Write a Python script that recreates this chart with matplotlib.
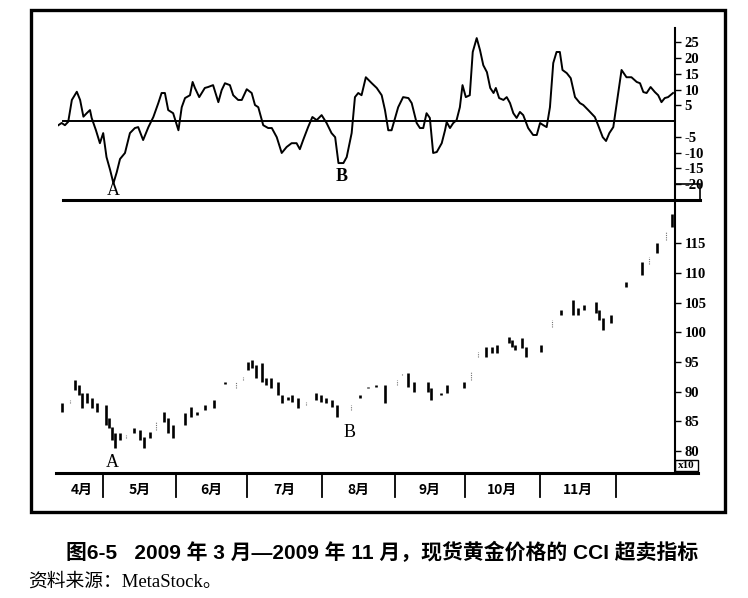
""" CCI oversold indicator over spot gold, Mar-Nov 2009 """

import matplotlib
matplotlib.use("Agg")
import matplotlib.pyplot as plt
import matplotlib.transforms as mtrans
from matplotlib.patches import Rectangle

# CCI line (trading day index, value)
cci_day = [0.1, 1.1, 2.1, 3.1, 4.2, 5.7, 6.7, 7.7, 8.7, 9.7, 10.2, 11.5, 12.7, 13.7,
           14.7, 15.8, 16.8, 17.8, 18.8, 20.3, 21.8, 23.3, 24.3, 25.8, 27.4, 28.9,
           30.4, 31.4, 32.4, 33.4, 34.9, 36.5, 37.5, 38.5, 40.0, 40.8, 41.5, 42.8,
           44.5, 45.5, 47.0, 48.6, 49.6, 50.6, 52.1, 53.1, 54.6, 55.7, 57.2, 58.7,
           59.7, 60.7, 62.2, 63.7, 64.8, 66.3, 67.8, 69.3, 70.8, 72.3, 73.3, 74.3,
           75.8, 77.1, 78.4, 79.9, 81.4, 82.9, 84.0, 85.0, 86.5, 87.5, 89.0, 90.0,
           91.0, 92.0, 93.3, 95.1, 96.6, 98.1, 99.1, 100.1, 101.1, 103.1, 104.6,
           106.2, 107.2, 108.7, 109.7, 110.7, 111.7, 112.7, 113.7, 114.8, 116.3,
           117.3, 117.8, 118.8, 119.8, 120.8, 121.8, 122.6, 123.6, 124.8, 125.7,
           126.9, 127.9, 128.9, 130.0, 131.0, 132.0, 132.7, 133.7, 135.0, 136.0,
           137.0, 138.0, 139.0, 140.0, 141.0, 142.5, 144.0, 145.1, 146.1, 147.1,
           148.1, 149.1, 150.1, 151.1, 152.1, 152.9, 154.2, 155.4, 156.7, 158.2,
           159.2, 160.7, 162.7, 163.7, 165.1, 166.1, 167.1, 168.3, 169.5, 170.8,
           172.3, 173.8, 175.4, 176.4, 177.4, 178.4, 179.6, 180.9, 181.9, 182.9,
           183.9, 184.9, 186.4]
cci_val = [-1.3, -0.6, -1.3, -0.2, 6.7, 9.3, 6.7, 1.4, 2.5, 3.5, 1.0, -2.9, -7.0, -3.8,
           -11.4, -15.5, -19.7, -16.2, -12.0, -10.1, -3.8, -2.2, -1.9, -6.0, -1.9, 1.3,
           5.7, 8.9, 8.9, 3.5, 2.5, -2.9, 4.4, 7.3, 8.2, 12.4, 10.5, 7.6,
           10.5, 10.8, 11.4, 6.0, 9.8, 12.0, 11.4, 8.2, 6.7, 6.7, 10.1, 8.9,
           5.1, 4.4, -1.3, -2.2, -2.2, -5.1, -10.1, -8.2, -7.0, -7.0, -8.9, -6.0,
           -1.9, 1.3, 0.3, 1.9, -0.6, -3.8, -5.1, -13.3, -13.3, -11.4, -3.8, 7.6,
           8.9, 8.2, 13.9, 12.0, 10.5, 8.2, 3.5, -2.9, -2.9, 4.4, 7.6,
           7.3, 5.7, -0.6, -2.2, -2.2, 2.5, 1.0, -10.1, -9.8, -7.0,
           -2.9, -0.3, -2.2, -0.6, 0.3, 4.4, 11.4, 7.6, 8.2, 21.9,
           26.3, 22.5, 17.7, 15.5, 10.5, 8.9, 10.5, 7.3, 6.7, 7.6,
           5.7, 2.5, 1.0, 2.9, 1.9, -2.2, -4.4, -4.4, -0.6, -1.3,
           -1.9, 4.4, 18.4, 21.9, 21.9, 16.2, 15.2, 13.6, 7.6, 5.7,
           5.1, 3.5, 1.3, -1.3, -5.1, -6.3, -3.8, -1.9, 6.7, 16.2,
           13.9, 13.9, 12.4, 12.0, 9.2, 8.9, 10.8, 9.2, 8.2, 6.0,
           7.3, 7.6, 8.9]

# price bars (x10 USD): clearly printed ones
bar_day = [1.1, 5.2, 6.4, 7.4, 8.9, 10.2, 11.7, 14.5, 15.5, 16.4, 17.3, 18.8, 22.9,
           24.8, 26.1, 27.9, 32.1, 33.2, 35.0, 38.5, 40.3, 42.1, 44.5, 47.3, 50.6,
           57.7, 58.9, 60.0, 61.7, 62.9, 64.7, 66.8, 68.0, 69.7, 71.0, 72.6, 78.2,
           79.7, 81.2, 83.0, 84.7, 91.5, 94.1, 96.4, 99.1, 106.2, 108.0, 112.0,
           113.0, 116.2, 118.0, 123.0, 129.8, 131.4, 133.2, 136.8, 137.7, 138.5,
           140.5, 141.7, 146.5, 152.6, 156.2, 157.6, 159.4, 163.0, 163.9, 165.3,
           167.6, 172.3, 177.1, 181.4, 186.2]
bar_high = [88.1, 92.0, 91.1, 89.8, 89.8, 89.0, 88.1, 87.7, 85.6, 84.0, 83.0, 83.0, 83.9,
            83.6, 82.4, 83.2, 86.6, 85.6, 84.4, 86.4, 87.4, 86.6, 87.7, 88.6, 91.6,
            95.0, 95.3, 94.5, 94.8, 92.3, 92.3, 91.6, 89.4, 89.1, 89.4, 88.9, 89.8,
            89.4, 89.0, 88.6, 87.7, 89.4, 90.8, 91.1, 91.1, 93.1, 91.6, 91.6,
            90.6, 89.7, 91.1, 91.6, 97.5, 97.5, 97.8, 99.2, 98.7, 97.8,
            99.0, 97.5, 97.8, 103.7, 105.4, 104.1, 104.6, 105.1, 103.7, 102.4,
            103.0, 108.5, 111.8, 115.0, 120.0]
bar_low = [86.6, 90.3, 89.4, 87.2, 88.1, 87.2, 86.6, 84.4, 83.9, 81.9, 80.5, 81.9, 83.0,
           81.9, 80.5, 82.2, 84.9, 83.0, 82.2, 84.4, 85.7, 86.1, 86.9, 87.2, 91.3,
           93.6, 94.0, 92.3, 91.6, 91.1, 90.6, 89.4, 88.1, 88.6, 88.2, 87.2, 88.6,
           88.2, 88.1, 87.4, 85.7, 88.9, 90.6, 90.8, 88.1, 90.8, 89.9, 89.9,
           88.6, 89.5, 89.8, 90.6, 95.8, 96.5, 96.5, 98.2, 97.5, 97.0,
           97.3, 95.8, 96.7, 102.9, 102.9, 102.9, 103.7, 103.2, 102.0, 100.4,
           101.6, 107.6, 109.6, 113.3, 117.7]

# faintly printed bars
faint_day = [3.6, 20.6, 29.8, 53.9, 56.2, 75.2, 88.9, 102.6, 104.2, 125.2, 127.4,
             149.8, 179.1, 184.4]
faint_high = [88.6, 82.7, 84.9, 91.6, 92.5, 88.2, 87.7, 92.0, 93.1, 93.3, 96.7,
              102.0, 112.7, 116.9]
faint_low = [88.1, 82.2, 83.5, 90.6, 92.0, 87.7, 86.9, 91.2, 92.8, 92.0, 95.8,
             100.9, 111.6, 115.5]

# month starts (trading day) and labels
month_start = [13.6, 35.8, 57.3, 80.0, 102.1, 123.3, 146.1, 169.1]
month_names = ["4月", "5月", "6月", "7月", "8月", "9月", "10月", "11月"]

cci_ticks = [25, 20, 15, 10, 5, -5, -10, -15, -20]
price_ticks = [115, 110, 105, 100, 95, 90, 85, 80]

W, H = 748, 598
fig = plt.figure(figsize=(W / 100, H / 100), dpi=100)

def px_rect(l, t, r, b):
    return [l / W, 1 - b / H, (r - l) / W, (b - t) / H]

serif = ["Liberation Serif", "DejaVu Serif"]
cjk = ["Noto Sans CJK SC", "DejaVu Sans"]

ax1 = fig.add_axes(px_rect(58, 28, 675, 200))
ax2 = fig.add_axes(px_rect(58, 200, 675, 473))

for ax in (ax1, ax2):
    ax.patch.set_visible(False)
    for s in ("top", "left", "bottom"):
        ax.spines[s].set_visible(False)
    ax.spines["right"].set_linewidth(1.5)
    ax.set_xlim(0, 187)
    ax.set_xticks([])
    ax.yaxis.tick_right()
    ax.tick_params(axis="y", direction="out", length=4, width=1, pad=3,
                   labelsize=10.5)

# CCI panel
ax1.set_ylim(-25, 29.5)
ax1.plot(cci_day, cci_val, color="black", lw=1.4)
ax1.axhline(0, xmin=0.008, xmax=1, color="black", lw=1.4)
ax1.axhline(-25, xmin=0.008, xmax=1.0405, color="black", lw=2.2, clip_on=False,
            zorder=5)
ax1.set_yticks(cci_ticks)
ax1.set_yticklabels([str(t) for t in cci_ticks], family=serif, fontweight="bold")
bt = mtrans.blended_transform_factory(ax1.transAxes, ax1.transData)
ax1.add_patch(Rectangle((1.0, -25), 0.0405, 5, transform=bt, fill=False,
                        lw=1.2, clip_on=False))
ax1.text(16.7, -24.6, "A", family=serif, fontsize=13, ha="center", va="bottom")
ax1.text(86, -17.7, "B", family=serif, fontsize=13, ha="center", va="center",
         fontweight="bold")

# price panel
ax2.set_ylim(76.3, 122.3)
ax2.vlines(bar_day, bar_low, bar_high, color="black", lw=1.9)
ax2.vlines(faint_day, faint_low, faint_high, color="0.45", lw=0.8,
           linestyles=(0, (1, 1)))
ax2.set_yticks(price_ticks)
ax2.set_yticklabels([str(t) for t in price_ticks], family=serif, fontweight="bold")
ax2.axhline(76.3, xmin=-0.003, xmax=1.037, color="black", lw=2.2, clip_on=False)
ax2.add_patch(Rectangle((1.0, 0.007), 0.0373, 0.041, transform=ax2.transAxes,
                        fill=False, lw=1.0, clip_on=False))
ax2.text(1.0186, 0.027, "x10", transform=ax2.transAxes, family=serif,
         fontsize=8, fontweight="bold", ha="center", va="center")
ax2.text(16.4, 78.0, "A", family=serif, fontsize=13, ha="center", va="center")
ax2.text(88.5, 83.2, "B", family=serif, fontsize=13, ha="center", va="center")

# month strip below the price panel
mt = mtrans.blended_transform_factory(ax2.transData, ax2.transAxes)
for d in month_start:
    ax2.plot([d, d], [0, -0.088], transform=mt, color="black", lw=1.3,
             clip_on=False)
edges = [0.7] + month_start
for i, name in enumerate(month_names):
    mid = (edges[i] + edges[i + 1]) / 2
    ax2.text(mid, -0.062, name, transform=mt, family=cjk, fontsize=10,
             fontweight="bold", ha="center", va="center")

# outer frame
fig.add_artist(Rectangle((31 / W, 1 - 512 / H), 694 / W, 502 / H,
                         transform=fig.transFigure, fill=False, lw=2.4,
                         color="black"))

# caption
fig.text(382 / W, 1 - 552 / H,
         "图6-5   2009 年 3 月—2009 年 11 月，现货黄金价格的 CCI 超卖指标",
         family=["Liberation Sans", "Noto Sans CJK SC"], fontsize=15,
         fontweight="bold", ha="center", va="center")
fig.text(28 / W, 1 - 582 / H, "资料来源：MetaStock。",
         family=["Liberation Serif", "Noto Sans CJK SC"], fontsize=13.5,
         ha="left", va="center")

fig.savefig("out.png", dpi=100)
